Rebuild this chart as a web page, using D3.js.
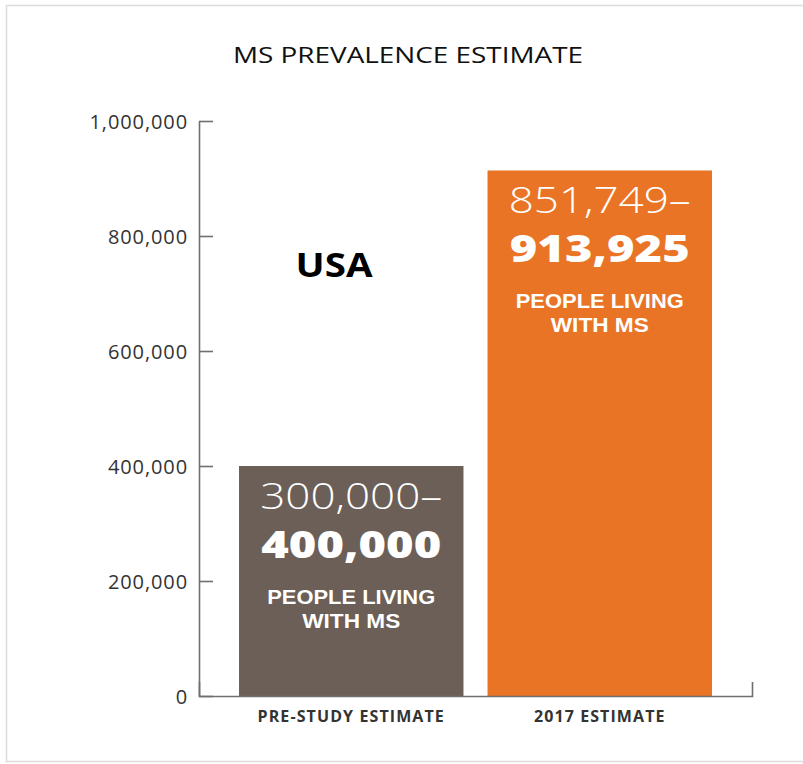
<!DOCTYPE html>
<html>
<head>
<meta charset="utf-8">
<script src="https://cdn.jsdelivr.net/npm/d3@7"></script>
<style>
  html, body { margin: 0; padding: 0; background: #fff; }
  svg { display: block; }
</style>
</head>
<body>
<svg id="chart" width="803" height="764"></svg>
<script>
const categories = ["PRE-STUDY ESTIMATE", "2017 ESTIMATE"];
const lowValues = [300000, 851749];
const highValues = [400000, 913925];
const barColors = ["#6b5f58", "#ea7425"];
const tickValues = [0, 200000, 400000, 600000, 800000, 1000000];
const titleText = "MS PREVALENCE ESTIMATE";
const regionText = "USA";
const subLines = ["PEOPLE LIVING", "WITH MS"];

const svg = d3.select("#chart");
const fmt = d3.format(",");

// frame
svg.append("rect").attr("x", 6.5).attr("y", 5.5).attr("width", 820).attr("height", 756)
  .attr("fill", "none").attr("stroke", "#dcdcdc").attr("stroke-width", 1.5);

const y = d3.scaleLinear().domain([0, 1000000]).range([696, 121]);
const x = d3.scaleBand().domain(categories).range([199, 752])
  .paddingInner(0.0968).paddingOuter(0.161);

// title
svg.append("text").attr("x", 408).attr("y", 63).attr("text-anchor", "middle")
  .attr("font-family", "Open Sans").attr("font-size", 21).attr("fill", "#111")
  .attr("textLength", 350).attr("lengthAdjust", "spacingAndGlyphs")
  .text(titleText);

// bars
const data = categories.map((c, i) => ({c, lo: lowValues[i], hi: highValues[i], color: barColors[i]}));
svg.selectAll("rect.bar").data(data).join("rect").attr("class", "bar")
  .attr("x", d => x(d.c)).attr("width", x.bandwidth())
  .attr("y", d => y(d.hi)).attr("height", d => y(0) - y(d.hi))
  .attr("fill", d => d.color);

// y axis
const yAxis = d3.axisLeft(y).tickValues(tickValues).tickFormat(fmt)
  .tickSize(-14).tickSizeOuter(0).tickPadding(11);
const gy = svg.append("g").attr("transform", "translate(199,0)").call(yAxis);
gy.selectAll("path, line").attr("stroke", "#6f6f6f").attr("stroke-width", 1.6);
gy.selectAll("text").attr("font-family", "Open Sans").attr("font-size", 20)
  .attr("fill", "#333").attr("letter-spacing", 0.9).attr("dy", "0.36em");

// x axis
const xAxis = d3.axisBottom(x).tickSize(0).tickSizeOuter(-14).tickPadding(15);
const gx = svg.append("g").attr("transform", "translate(0,696)").call(xAxis);
gx.selectAll("path").attr("stroke", "#6f6f6f").attr("stroke-width", 1.6);
gx.selectAll("text").attr("font-family", "Open Sans").attr("font-size", 16)
  .attr("font-weight", 700).attr("fill", "#333").attr("letter-spacing", 1.1);

// bar labels
const lbl = svg.selectAll("g.lbl").data(data).join("g").attr("class", "lbl")
  .attr("transform", d => `translate(${x(d.c) + x.bandwidth() / 2},${y(d.hi)})`)
  .attr("text-anchor", "middle").attr("fill", "#fff").attr("font-family", "Open Sans");
lbl.append("text").attr("y", 43).attr("font-size", 37).attr("font-weight", 300)
  .attr("textLength", 182).attr("lengthAdjust", "spacingAndGlyphs")
  .text(d => fmt(d.lo) + "–");
lbl.append("text").attr("y", 92).attr("font-size", 37).attr("font-weight", 800)
  .attr("textLength", 180).attr("lengthAdjust", "spacingAndGlyphs")
  .text(d => fmt(d.hi));
lbl.append("text").attr("y", 138).attr("font-size", 20.5).attr("font-weight", 700)
  .attr("font-family", "Liberation Sans")
  .attr("textLength", 168).attr("lengthAdjust", "spacingAndGlyphs").text(subLines[0]);
lbl.append("text").attr("y", 161.5).attr("font-size", 20.5).attr("font-weight", 700)
  .attr("font-family", "Liberation Sans")
  .attr("textLength", 98).attr("lengthAdjust", "spacingAndGlyphs").text(subLines[1]);

// region label
svg.append("text").attr("x", 334).attr("y", 277).attr("text-anchor", "middle")
  .attr("font-family", "Open Sans").attr("font-weight", 700).attr("font-size", 34)
  .attr("fill", "#000").attr("textLength", 77).attr("lengthAdjust", "spacingAndGlyphs")
  .text(regionText);
</script>
</body>
</html>
